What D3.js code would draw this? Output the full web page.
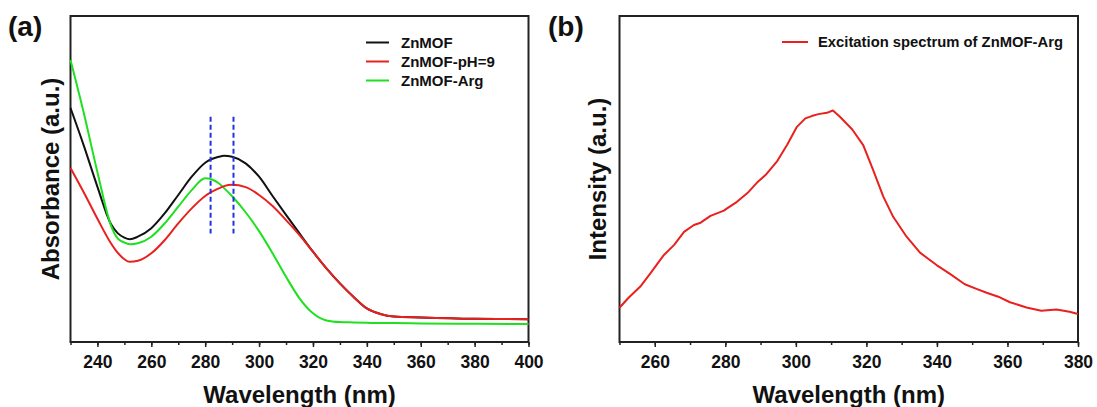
<!DOCTYPE html>
<html>
<head>
<meta charset="utf-8">
<script src="https://cdn.jsdelivr.net/npm/d3@7"></script>
<style>
  html, body { margin: 0; padding: 0; background: #fff; }
  svg { display: block; }
  text { font-family: "Liberation Sans", Arial, sans-serif; font-weight: bold; fill: #111; }
</style>
</head>
<body>
<svg id="fig" width="1097" height="407"></svg>
<script>
// ---- UV-Vis absorbance (panel a), arbitrary units ----
const wavelengthsA = [230, 235, 240, 245, 247.5, 250, 252, 255, 260, 265, 270, 275, 280, 285, 287, 290, 295, 300, 305, 310, 315, 320, 325, 330, 335, 340, 345, 350, 360, 380, 400];
const absZnMOF     = [0.718, 0.601, 0.476, 0.362, 0.334, 0.320, 0.315, 0.323, 0.349, 0.395, 0.451, 0.507, 0.550, 0.568, 0.571, 0.568, 0.548, 0.507, 0.448, 0.390, 0.333, 0.277, 0.226, 0.180, 0.139, 0.103, 0.086, 0.078, 0.075, 0.071, 0.070];
const absZnMOFpH9  = [0.534, 0.458, 0.378, 0.303, 0.274, 0.254, 0.246, 0.249, 0.272, 0.313, 0.364, 0.410, 0.448, 0.471, 0.478, 0.482, 0.475, 0.451, 0.417, 0.374, 0.328, 0.277, 0.226, 0.180, 0.139, 0.103, 0.086, 0.078, 0.075, 0.071, 0.070];
const absZnMOFArg  = [0.865, 0.700, 0.521, 0.358, 0.318, 0.305, 0.300, 0.303, 0.323, 0.364, 0.415, 0.466, 0.502, 0.487, 0.472, 0.447, 0.398, 0.340, 0.272, 0.200, 0.134, 0.088, 0.066, 0.061, 0.060, 0.059, 0.058, 0.058, 0.057, 0.056, 0.055];
const seriesNamesA = ["ZnMOF", "ZnMOF-pH=9", "ZnMOF-Arg"];
const seriesColorsA = ["#111111", "#e8211f", "#1fe01f"];
const peakMarkers = [282, 290.5];          // dashed guides at the band maxima
const peakMarkerRange = [0.333, 0.691];
const ticksA = [240, 260, 280, 300, 320, 340, 360, 380, 400];

// ---- Excitation spectrum (panel b), arbitrary units ----
const wavelengthsB = [250, 252.5, 255.9, 258.8, 262.6, 265.5, 268.3, 271.1, 273, 275.8, 279.6, 280.5, 283.3, 286.2, 289, 291.4, 294.6, 297.5, 300.3, 302.7, 304.5, 306.4, 308.8, 310.5, 312.5, 316, 319.1, 321.9, 324.8, 327.6, 331.4, 335.2, 339.9, 343.7, 347.9, 351.2, 354.1, 357.4, 360.7, 365.4, 369.6, 373.9, 377.6, 380];
const intensityB  = [0.105, 0.135, 0.170, 0.211, 0.267, 0.298, 0.338, 0.359, 0.366, 0.387, 0.403, 0.410, 0.430, 0.456, 0.489, 0.512, 0.553, 0.604, 0.660, 0.686, 0.693, 0.699, 0.703, 0.710, 0.691, 0.652, 0.604, 0.528, 0.446, 0.384, 0.323, 0.274, 0.236, 0.209, 0.177, 0.163, 0.151, 0.139, 0.122, 0.106, 0.096, 0.100, 0.093, 0.086];
const seriesNameB = "Excitation spectrum of ZnMOF-Arg";
const ticksB = [260, 280, 300, 320, 340, 360, 380];

const svg = d3.select("#fig");

function drawPanel(opts) {
  const { left, right, top, bottom, xDomain, majorTicks, yTitle, label, labelX, titleX } = opts;
  const x = d3.scaleLinear().domain(xDomain).range([left, right]);
  const y = d3.scaleLinear().domain([0, 1]).range([bottom, top]);
  const g = svg.append("g");

  // bottom axis with major (labelled) and minor ticks
  const minor = d3.range(xDomain[0], xDomain[1] + 0.001, 10);
  g.append("g")
    .attr("transform", `translate(0,${bottom})`)
    .call(d3.axisBottom(x).tickValues(minor).tickSize(3).tickFormat(""))
    .call(a => a.select(".domain").remove())
    .call(a => a.selectAll("line").attr("stroke", "#222").attr("stroke-width", 1.5));
  const major = g.append("g")
    .attr("transform", `translate(0,${bottom})`)
    .call(d3.axisBottom(x).tickValues(majorTicks).tickSize(5).tickPadding(9).tickFormat(d3.format("d")));
  major.select(".domain").remove();
  major.selectAll("line").attr("stroke", "#222").attr("stroke-width", 1.5);
  major.selectAll("text")
    .style("font-size", "17.5px").style("font-family", "'Liberation Sans', Arial, sans-serif")
    .style("font-weight", "bold").attr("fill", "#111");

  // frame
  g.append("rect")
    .attr("x", left).attr("y", top)
    .attr("width", right - left).attr("height", bottom - top)
    .attr("fill", "none").attr("stroke", "#222").attr("stroke-width", 2);

  // axis titles
  g.append("text")
    .attr("x", (left + right) / 2).attr("y", 403)
    .attr("text-anchor", "middle").style("font-size", "24px")
    .text("Wavelength (nm)");
  g.append("text")
    .attr("transform", `translate(${titleX},${(top + bottom) / 2}) rotate(-90)`)
    .attr("text-anchor", "middle").attr("dy", "0.35em").style("font-size", "24px")
    .text(yTitle);

  // panel label
  g.append("text").attr("x", labelX).attr("y", 36).style("font-size", "28px").text(label);

  return { g, x, y };
}

// ---------- panel (a) ----------
const pa = drawPanel({
  left: 70.5, right: 528.5, top: 16, bottom: 342,
  xDomain: [230, 400], majorTicks: ticksA,
  yTitle: "Absorbance (a.u.)", label: "(a)", labelX: 8, titleX: 51
});

const lineA = d3.line().x(d => pa.x(d[0])).y(d => pa.y(d[1])).curve(d3.curveMonotoneX);
const seriesA = [absZnMOF, absZnMOFpH9, absZnMOFArg];
// draw order: black, green, then red on top
[0, 2, 1].forEach(idx => {
  pa.g.append("path")
    .datum(wavelengthsA.map((w, i) => [w, seriesA[idx][i]]))
    .attr("fill", "none").attr("stroke", seriesColorsA[idx])
    .attr("stroke-width", 2).attr("stroke-linejoin", "round")
    .attr("d", lineA);
});

pa.g.selectAll(".peak").data(peakMarkers).enter().append("line")
  .attr("x1", d => pa.x(d)).attr("x2", d => pa.x(d))
  .attr("y1", pa.y(peakMarkerRange[1])).attr("y2", pa.y(peakMarkerRange[0]))
  .attr("stroke", "#2233e0").attr("stroke-width", 2).attr("stroke-dasharray", "5,3");

// legend (a)
const legA = pa.g.append("g");
seriesNamesA.forEach((name, i) => {
  const yy = 42.5 + i * 19;
  legA.append("line").attr("x1", 366).attr("x2", 389).attr("y1", yy).attr("y2", yy)
    .attr("stroke", seriesColorsA[i]).attr("stroke-width", 2);
  legA.append("text").attr("x", 401).attr("y", yy).attr("dy", "0.35em")
    .style("font-size", "15px").text(name);
});

// ---------- panel (b) ----------
const pb = drawPanel({
  left: 619.5, right: 1078, top: 16, bottom: 342,
  xDomain: [250, 380], majorTicks: ticksB,
  yTitle: "Intensity (a.u.)", label: "(b)", labelX: 548, titleX: 598
});

const lineB = d3.line().x(d => pb.x(d[0])).y(d => pb.y(d[1])).curve(d3.curveLinear);
pb.g.append("path")
  .datum(wavelengthsB.map((w, i) => [w, intensityB[i]]))
  .attr("fill", "none").attr("stroke", "#e8211f").attr("stroke-width", 2)
  .attr("stroke-linejoin", "round")
  .attr("d", lineB);

pb.g.append("line").attr("x1", 782).attr("x2", 808).attr("y1", 42).attr("y2", 42)
  .attr("stroke", "#e8211f").attr("stroke-width", 2);
pb.g.append("text").attr("x", 818).attr("y", 42).attr("dy", "0.35em")
  .style("font-size", "14.8px").text(seriesNameB);
</script>
</body>
</html>
